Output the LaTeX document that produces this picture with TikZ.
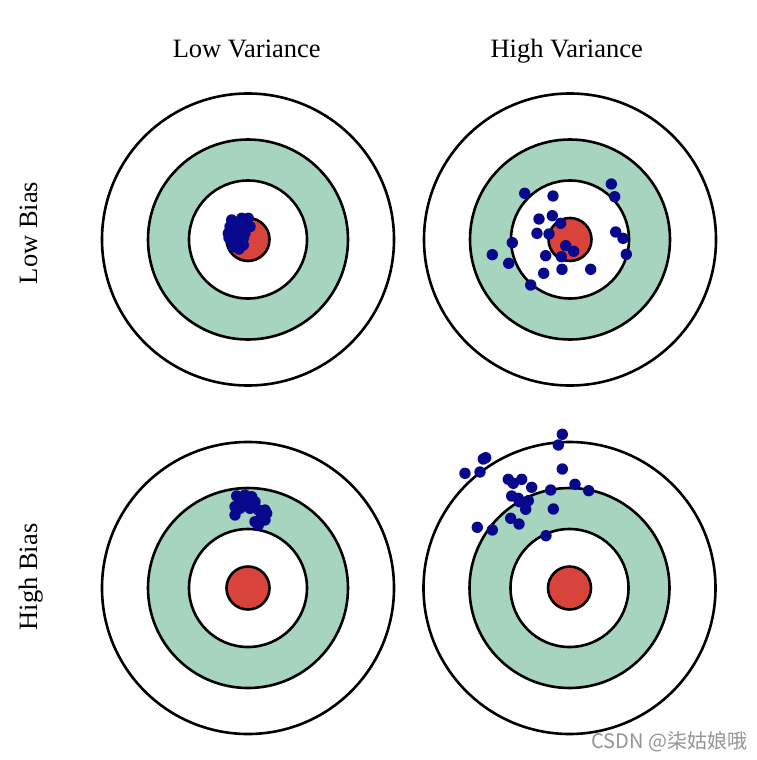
\documentclass[tikz,border=0pt]{standalone}
\usepackage{fontspec}
\setmainfont{Liberation Serif}
\newfontfamily\cjkfont{Noto Sans CJK SC}
\definecolor{ringgreen}{RGB}{167,212,191}
\definecolor{bullred}{RGB}{216,68,60}
\definecolor{dotblue}{RGB}{8,8,140}
\tikzset{
  ringline/.style={line width=2.6pt, draw=black},
  shot/.style={fill=dotblue},
  headlabel/.style={font=\fontsize{26.5}{30}\selectfont, anchor=base, inner sep=0pt},
  sidelabel/.style={font=\fontsize{26.5}{30}\selectfont, anchor=base, rotate=90, inner sep=0pt},
}
\newcommand\drawtarget[2]{%
  \draw[ringline, fill=white] (#1,#2) circle (146pt);
  \draw[ringline, fill=ringgreen] (#1,#2) circle (100pt);
  \draw[ringline, fill=white] (#1,#2) circle (59pt);
  \draw[ringline, fill=bullred] (#1,#2) circle (21.5pt);
}
\begin{document}
\begin{tikzpicture}[x=1pt,y=-1pt]
\useasboundingbox (0,0) rectangle (757,760);
\fill[white] (0,0) rectangle (757,760);

% targets
\drawtarget{248}{239.5}
\drawtarget{570}{239.5}
\drawtarget{248}{588}
\drawtarget{569.5}{588}

% top-left: low bias, low variance
\foreach \x/\y in {231.7/220, 241.7/218.3, 248.3/218.3, 230/226.7, 238.3/225,
  246.7/226.7, 250/226.7, 228.3/233.3, 236.7/235, 245/233.3, 231.7/240,
  240/241.7, 243.3/245, 233.3/246.7, 243.3/238.3, 239/249, 236/229, 229/238}
  \fill[shot] (\x,\y) circle (5.7pt);

% top-right: low bias, high variance
\foreach \x/\y in {524.7/193.3, 553/196, 611.3/184, 614.7/196.7, 539/219,
  552.3/215.7, 560.7/223.3, 537/233.3, 549/234, 615.7/232, 623/238.3,
  512.3/242.7, 492.3/254.7, 565.7/245.7, 573.7/251.3, 545.7/255.7,
  561.3/256.7, 626.3/254.3, 508.7/263.3, 543.7/273.3, 562/269.3,
  590.7/269.3, 530.7/285}
  \fill[shot] (\x,\y) circle (5.7pt);

% bottom-left: high bias, low variance
\foreach \x/\y in {236.7/496, 245/495, 251.7/496.7, 241.7/501.7, 248.3/503.3,
  255/501.7, 235/506.7, 240/508.3, 250/508.3, 258.3/510, 265/510,
  266.7/513.3, 235/515, 261.7/516.7, 265/520, 255/521.7, 258.3/525,
  253.3/506.7, 244/505}
  \fill[shot] (\x,\y) circle (5.7pt);

% bottom-right: high bias, high variance
\foreach \x/\y in {562.3/434.3, 558.3/445, 483.3/459, 485.7/457.7, 465/473.3,
  480/472, 562.3/469, 508.3/479.3, 513.3/483.3, 521.7/479.3, 531.7/487.3,
  550.7/490, 575/484.3, 588.7/490.7, 511.7/496, 518.3/498.3, 519.3/501.7,
  528.3/500.7, 525.7/509.3, 553.3/509, 510.7/518.3, 519/524, 477.3/527.3,
  492.3/530, 546/535.7}
  \fill[shot] (\x,\y) circle (5.7pt);

% labels
\node[headlabel] (lowvar) at (246.7,58) {Low Variance};
\node[headlabel] (highvar) at (566.7,58) {High Variance};
\node[sidelabel] (lowbias) at (37,233) {Low Bias};
\node[sidelabel] (highbias) at (37,577) {High Bias};

% watermark
\node[font=\cjkfont\fontsize{20}{20}\selectfont, text=black!42, inner sep=0pt] (wm) at (669.5,742) {CSDN @柒姑娘哦};
\end{tikzpicture}
\end{document}
